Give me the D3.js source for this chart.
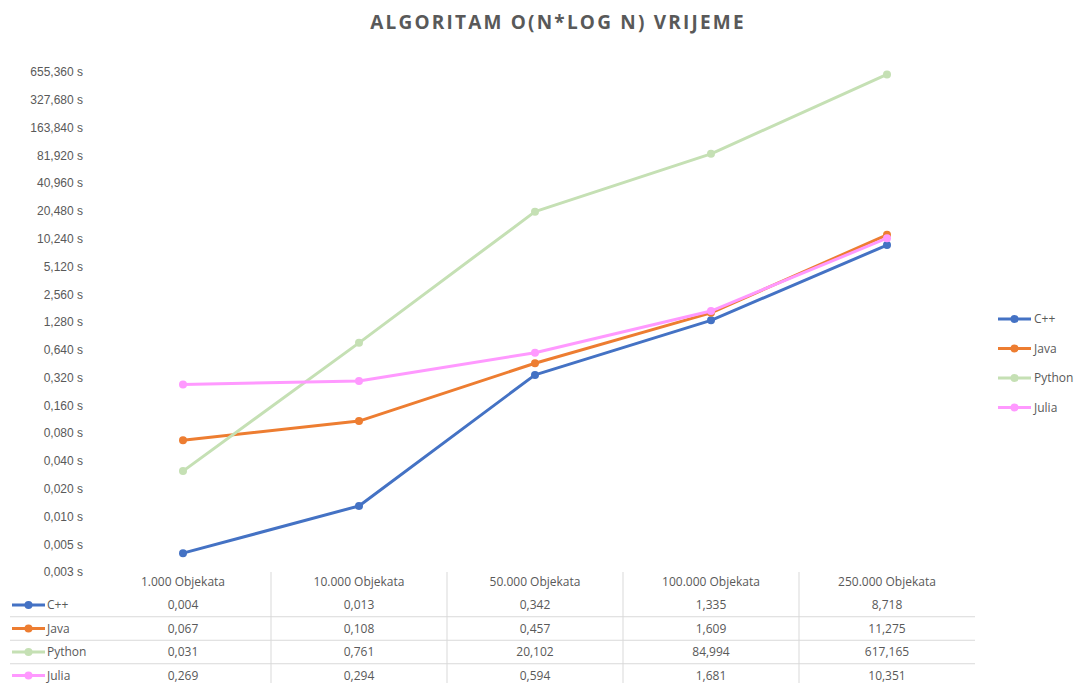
<!DOCTYPE html>
<html>
<head>
<meta charset="utf-8">
<script src="https://cdn.jsdelivr.net/npm/d3@7"></script>
<style>
  body { margin: 0; background: #fff; }
  svg { font-family: "Open Sans", "Noto Sans", sans-serif; }
  .axis text { fill: #595959; font-size: 12px; }
  .cell { fill: #595959; font-size: 12px; }
</style>
</head>
<body>
<div id="chart"></div>
<script>
// data
var categories = ["1.000 Objekata", "10.000 Objekata", "50.000 Objekata", "100.000 Objekata", "250.000 Objekata"];
var seriesNames = ["C++", "Java", "Python", "Julia"];
var seriesColors = ["#4472C4", "#ED7D31", "#C5E0B4", "#FF99FF"];
var cppValues = [0.004, 0.013, 0.342, 1.335, 8.718];
var javaValues = [0.067, 0.108, 0.457, 1.609, 11.275];
var pythonValues = [0.031, 0.761, 20.102, 84.994, 617.165];
var juliaValues = [0.269, 0.294, 0.594, 1.681, 10.351];
var yTicks = [0.0025, 0.005, 0.01, 0.02, 0.04, 0.08, 0.16, 0.32, 0.64, 1.28, 2.56, 5.12,
              10.24, 20.48, 40.96, 81.92, 163.84, 327.68, 655.36];

var series = [cppValues, javaValues, pythonValues, juliaValues].map(function(v, i) {
  return { name: seriesNames[i], color: seriesColors[i], values: v };
});

var width = 1077, height = 683;

var svg = d3.select("#chart").append("svg")
    .attr("width", width)
    .attr("height", height);

// comma decimal locale
var locale = d3.formatLocale({ decimal: ",", thousands: ".", grouping: [3], currency: ["", ""] });
var fmt3 = locale.format(".3f");

var x = d3.scaleBand().domain(categories).range([95, 975]);
var y = d3.scaleLog().base(2).domain([0.0025, 655.36]).range([572, 72]);

// title
svg.append("text")
    .attr("x", 558)
    .attr("y", 29)
    .attr("text-anchor", "middle")
    .style("font-size", "19px")
    .style("font-weight", "bold")
    .style("letter-spacing", "2.2px")
    .style("fill", "#595959")
    .text("ALGORITAM O(N*LOG N) VRIJEME");

// y axis
var yAxis = svg.append("g")
    .attr("class", "axis")
    .attr("transform", "translate(83,0)")
    .call(d3.axisLeft(y).tickValues(yTicks).tickSize(0).tickPadding(0)
      .tickFormat(function(d) { return fmt3(d) + " s"; }));
yAxis.select(".domain").remove();

// lines
var line = d3.line()
    .x(function(d, i) { return x(categories[i]) + x.bandwidth() / 2; })
    .y(function(d) { return y(d); });

series.forEach(function(s) {
  svg.append("path")
      .datum(s.values)
      .attr("fill", "none")
      .attr("stroke", s.color)
      .attr("stroke-width", 3)
      .attr("stroke-linejoin", "round")
      .attr("d", line);

  svg.selectAll(null)
      .data(s.values)
    .enter().append("circle")
      .attr("cx", function(d, i) { return x(categories[i]) + x.bandwidth() / 2; })
      .attr("cy", function(d) { return y(d); })
      .attr("r", 4)
      .attr("fill", s.color);
});

// legend key helper
function legendKey(g, color) {
  g.append("line").attr("x1", 0).attr("x2", 33).attr("y1", 0).attr("y2", 0)
      .attr("stroke", color).attr("stroke-width", 3);
  g.append("circle").attr("cx", 16.5).attr("cy", 0).attr("r", 4).attr("fill", color);
}

// right legend
var legend = svg.selectAll(".legend")
    .data(series)
  .enter().append("g")
    .attr("class", "legend")
    .attr("transform", function(d, i) { return "translate(998," + (319 + i * 29.5) + ")"; });
legend.each(function(d) { legendKey(d3.select(this), d.color); });
legend.append("text")
    .attr("x", 36)
    .attr("dy", "0.35em")
    .style("font-size", "12px")
    .style("fill", "#595959")
    .text(function(d) { return d.name; });

// data table
var headerY = 582, rowStart = 605, rowH = 23.5;

// vertical dividers
svg.selectAll(".vdiv")
    .data(categories.slice(1))
  .enter().append("line")
    .attr("x1", function(d) { return x(d); })
    .attr("x2", function(d) { return x(d); })
    .attr("y1", 572).attr("y2", height)
    .attr("stroke", "#d9d9d9").attr("stroke-width", 1);

// horizontal row lines
svg.selectAll(".hdiv")
    .data(d3.range(1, series.length + 1))
  .enter().append("line")
    .attr("x1", 10).attr("x2", 975)
    .attr("y1", function(i) { return rowStart + rowH * i - rowH / 2; })
    .attr("y2", function(i) { return rowStart + rowH * i - rowH / 2; })
    .attr("stroke", "#d9d9d9").attr("stroke-width", 1);

// header
svg.selectAll(".hdr")
    .data(categories)
  .enter().append("text")
    .attr("class", "cell")
    .attr("x", function(d) { return x(d) + x.bandwidth() / 2; })
    .attr("y", headerY)
    .attr("dy", "0.35em")
    .attr("text-anchor", "middle")
    .text(function(d) { return d; });

series.forEach(function(s, r) {
  var ry = rowStart + r * rowH;
  var key = svg.append("g").attr("transform", "translate(12," + ry + ")");
  legendKey(key, s.color);
  key.append("text").attr("class", "cell").attr("x", 35).attr("dy", "0.35em").text(s.name);

  svg.selectAll(null)
      .data(s.values)
    .enter().append("text")
      .attr("class", "cell")
      .attr("x", function(d, i) { return x(categories[i]) + x.bandwidth() / 2; })
      .attr("y", ry)
      .attr("dy", "0.35em")
      .attr("text-anchor", "middle")
      .text(function(d) { return fmt3(d); });
});
</script>
</body>
</html>
